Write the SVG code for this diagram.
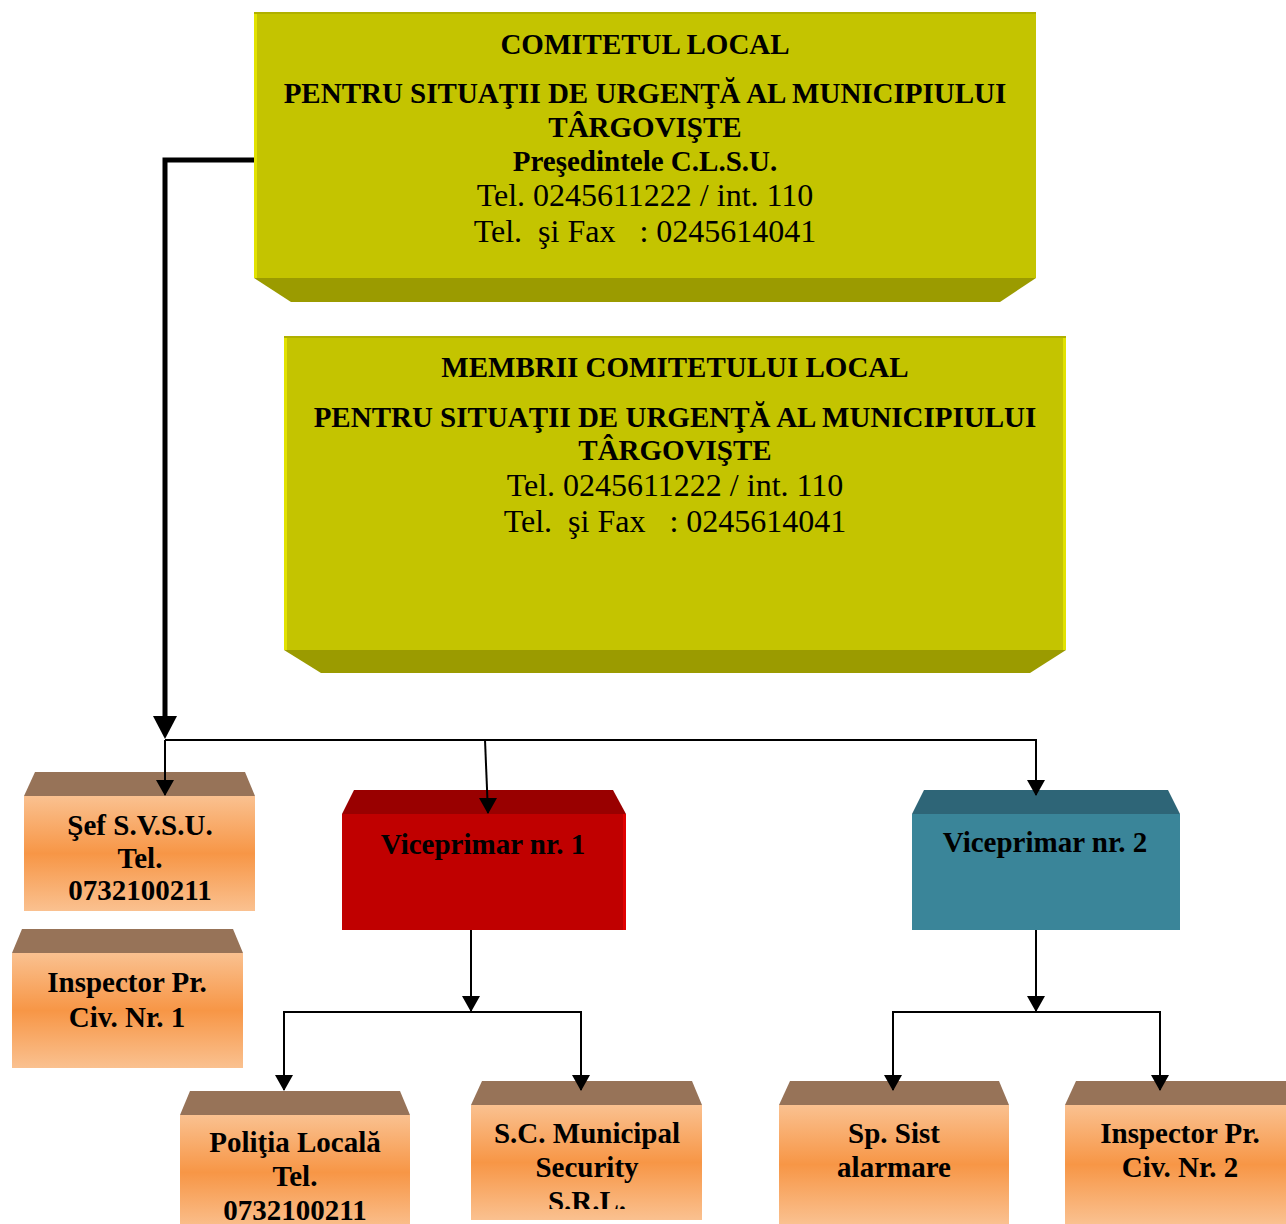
<svg xmlns="http://www.w3.org/2000/svg" width="1286" height="1224" viewBox="0 0 1286 1224">
<defs>
<style>
.b{font-family:"Liberation Serif","Times New Roman",serif;font-weight:bold;font-size:29px;text-anchor:middle;fill:#000}
.r{font-family:"Liberation Serif","Times New Roman",serif;font-size:32px;text-anchor:middle;fill:#000;white-space:pre}
.yf{fill:#c4c400}
.yb{fill:#9b9b00}
.ob{fill:#977358}
.of{fill:url(#og)}
.ln{fill:none;stroke:#000;stroke-width:2}
</style>
<linearGradient id="og" x1="0" y1="0" x2="0" y2="1">
<stop offset="0" stop-color="#fac190"/>
<stop offset="0.5" stop-color="#f79646"/>
<stop offset="1" stop-color="#fac190"/>
</linearGradient>
<marker id="ah" markerWidth="18" markerHeight="16" refX="9" refY="15" orient="0" markerUnits="userSpaceOnUse">
<path d="M0,0 L18,0 L9,16 Z" fill="#000"/>
</marker>
<clipPath id="cSC"><rect x="471" y="1105" width="231" height="104"/></clipPath>
</defs>

<g id="comitet">
<polygon class="yb" points="254,278 1036,278 1000,302 291,302"/>
<rect class="yf" x="254" y="12" width="782" height="266"/>
<rect x="254" y="12" width="3" height="266" fill="#e2e200"/>
<rect x="254" y="12" width="782" height="2" fill="#b0b000"/>
<text class="b" x="645" y="54">COMITETUL LOCAL</text>
<text class="b" x="645" y="103">PENTRU SITUAŢII DE URGENŢĂ AL MUNICIPIULUI</text>
<text class="b" x="645" y="137">TÂRGOVIŞTE</text>
<text class="b" x="645" y="171">Preşedintele C.L.S.U.</text>
<text class="r" x="645" y="206">Tel. 0245611222 / int. 110</text>
<text class="r" x="645" y="242">Tel.  şi Fax   : 0245614041</text>
</g>

<g id="membrii">
<polygon class="yb" points="284,650 1066,650 1030,673 321,673"/>
<rect class="yf" x="284" y="336" width="782" height="314"/>
<rect x="284" y="336" width="3" height="314" fill="#e2e200"/>
<rect x="1063" y="336" width="3" height="314" fill="#e2e200"/>
<rect x="284" y="336" width="782" height="2" fill="#b0b000"/>
<text class="b" x="675" y="377">MEMBRII COMITETULUI LOCAL</text>
<text class="b" x="675" y="427">PENTRU SITUAŢII DE URGENŢĂ AL MUNICIPIULUI</text>
<text class="b" x="675" y="460">TÂRGOVIŞTE</text>
<text class="r" x="675" y="496">Tel. 0245611222 / int. 110</text>
<text class="r" x="675" y="532">Tel.  şi Fax   : 0245614041</text>
</g>

<g id="sef">
<polygon class="ob" points="35,772 245,772 255,796 24,796"/>
<rect class="of" x="24" y="796" width="231" height="115"/>
<text class="b" x="140" y="835">Şef S.V.S.U.</text>
<text class="b" x="140" y="868">Tel.</text>
<text class="b" x="140" y="900">0732100211</text>
</g>

<g id="inspector1">
<polygon class="ob" points="22,929 233,929 243,953 12,953"/>
<rect class="of" x="12" y="953" width="231" height="115"/>
<text class="b" x="127" y="992">Inspector Pr.</text>
<text class="b" x="127" y="1027">Civ. Nr. 1</text>
</g>

<g id="vice1">
<polygon fill="#990000" points="354,790 613,790 626,814 342,814"/>
<rect fill="#c00000" x="342" y="814" width="284" height="116"/>
<rect fill="#e00000" x="623" y="814" width="3" height="116"/>
<text class="b" x="483" y="854">Viceprimar nr. 1</text>
</g>

<g id="vice2">
<polygon fill="#2e6577" points="924,790 1168,790 1180,814 912,814"/>
<rect fill="#3a8599" x="912" y="814" width="268" height="116"/>
<text class="b" x="1045" y="852">Viceprimar nr. 2</text>
</g>

<g id="politia">
<polygon class="ob" points="190,1091 400,1091 410,1115 180,1115"/>
<rect class="of" x="180" y="1115" width="230" height="115"/>
<text class="b" x="295" y="1152">Poliţia Locală</text>
<text class="b" x="295" y="1186">Tel.</text>
<text class="b" x="295" y="1220">0732100211</text>
</g>

<g id="municipal">
<polygon class="ob" points="482,1081 692,1081 702,1105 471,1105"/>
<rect class="of" x="471" y="1105" width="231" height="115"/>
<g clip-path="url(#cSC)">
<text class="b" x="587" y="1143">S.C. Municipal</text>
<text class="b" x="587" y="1177">Security</text>
<text class="b" x="587" y="1211">S.R.L.</text>
</g>
</g>

<g id="alarmare">
<polygon class="ob" points="790,1081 999,1081 1009,1105 779,1105"/>
<rect class="of" x="779" y="1105" width="230" height="119"/>
<text class="b" x="894" y="1143">Sp. Sist</text>
<text class="b" x="894" y="1177">alarmare</text>
</g>

<g id="inspector2">
<polygon class="ob" points="1076,1081 1286,1081 1286,1105 1065,1105"/>
<rect class="of" x="1065" y="1105" width="221" height="119"/>
<text class="b" x="1180" y="1143">Inspector Pr.</text>
<text class="b" x="1180" y="1177">Civ. Nr. 2</text>
</g>

<g id="connectors">
<polyline points="254,160 165,160 165,718" fill="none" stroke="#000" stroke-width="5"/>
<polygon points="153,716 177,716 165,739" fill="#000"/>
<line class="ln" x1="165" y1="740" x2="1037" y2="740"/>
<line class="ln" x1="165" y1="740" x2="165" y2="795" marker-end="url(#ah)"/>
<line class="ln" x1="485" y1="740" x2="488" y2="813" marker-end="url(#ah)"/>
<line class="ln" x1="1036" y1="740" x2="1036" y2="795" marker-end="url(#ah)"/>
<line class="ln" x1="471" y1="930" x2="471" y2="1011" marker-end="url(#ah)"/>
<polyline class="ln" points="284,1090 284,1012 581,1012 581,1090"/>
<line class="ln" x1="284" y1="1012" x2="284" y2="1090" marker-end="url(#ah)"/>
<line class="ln" x1="581" y1="1012" x2="581" y2="1090" marker-end="url(#ah)"/>
<line class="ln" x1="1036" y1="930" x2="1036" y2="1011" marker-end="url(#ah)"/>
<polyline class="ln" points="893,1090 893,1012 1160,1012 1160,1090"/>
<line class="ln" x1="893" y1="1012" x2="893" y2="1090" marker-end="url(#ah)"/>
<line class="ln" x1="1160" y1="1012" x2="1160" y2="1090" marker-end="url(#ah)"/>
</g>
</svg>
